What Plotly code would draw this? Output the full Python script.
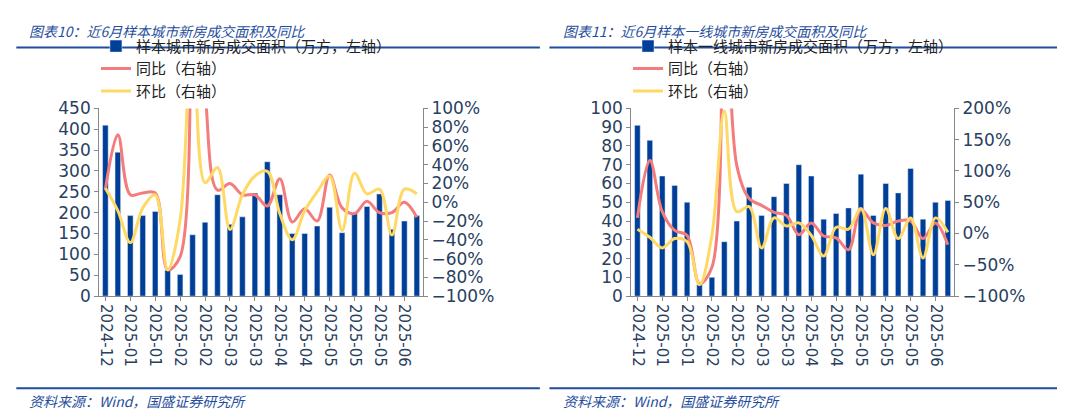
import plotly.graph_objects as go

x_idx = list(range(26))
tick_labels = ["2024-12", "2025-01", "2025-01", "2025-02", "2025-02", "2025-03", "2025-03",
               "2025-04", "2025-04", "2025-05", "2025-05", "2025-05", "2025-06"]

area_all = [410, 345, 193, 193, 203, 62, 52, 147, 177, 243, 172, 190, 247, 322, 243, 150, 150,
            168, 213, 152, 198, 215, 245, 160, 180, 193]
yoy_all = [14, 72, 8, 10, 10, -72, -58, 320, 120, 13, 20, 8, 8, -4, 25, -21, -7, -20, 29, -6,
           -12, 1, -11, -11, 0, -16]
mom_all = [15, -9, -43, -6, 8, -72, -19, 200, 21, 37, -29, 8, 28, 33, -12, -40, -9, 11, 28,
           -30, 31, 9, 14, -35, 14, 9]

area_t1 = [91, 83, 64, 59, 50, 6, 10, 29, 40, 58, 43, 53, 60, 70, 64, 41, 44, 47, 65, 43, 60,
           55, 68, 41, 50, 51]
yoy_t1 = [25, 117, 35, 5, -3, -80, -54, 450, 109, 56, 45, 34, 29, -2, 17, -4, -7, -26, 38, 17,
          13, 20, 20, -8, 17, -18]
mom_t1 = [7, -6, -23, -8, -13, -82, -3, 196, 35, 43, -23, 25, 12, 17, -3, -36, 10, 7, 40, -34,
          40, -8, 25, -39, 25, 2]

BLUE = "#003f98"
RED = "#f47c7c"
YEL = "#ffd966"
FONT = "DejaVu Sans, Noto Sans CJK SC"
CJK = "Noto Sans CJK SC"

fig = go.Figure()

def add_panel(n, bars, yoy, mom, barname, legend):
    xa = "x" if n == 1 else "x2"
    ya = "y" if n == 1 else "y3"
    ya2 = "y2" if n == 1 else "y4"
    fig.add_trace(go.Bar(x=x_idx, y=bars, name=barname, marker_color=BLUE, width=0.45,
                         xaxis=xa, yaxis=ya, legend=legend))
    fig.add_trace(go.Scatter(x=x_idx, y=yoy, name="同比（右轴）", mode="lines",
                             line=dict(color=RED, width=3, shape="spline", smoothing=1),
                             xaxis=xa, yaxis=ya2, legend=legend))
    fig.add_trace(go.Scatter(x=x_idx, y=mom, name="环比（右轴）", mode="lines",
                             line=dict(color=YEL, width=3, shape="spline", smoothing=1),
                             xaxis=xa, yaxis=ya2, legend=legend))

add_panel(1, area_all, yoy_all, mom_all, "样本城市新房成交面积（万方，左轴）", "legend")
add_panel(2, area_t1, yoy_t1, mom_t1, "样本一线城市新房成交面积（万方，左轴）", "legend2")

xcommon = dict(tickmode="array", tickvals=x_idx[::2], ticktext=tick_labels, tickangle=90,
               range=[-0.5, 25.5], showline=True, linecolor="#888", ticks="outside",
               ticklen=4, tickcolor="#888", showgrid=False, tickfont=dict(size=15, family=FONT))
ycommon = dict(showgrid=False, showline=True, linecolor="#888", ticks="outside", ticklen=4,
               tickcolor="#888", tickfont=dict(size=17, family=FONT), zeroline=False)

d1 = [0.083, 0.388]
d2 = [0.584, 0.888]
yd = [0.296, 0.771]
leg = dict(xanchor="left", yanchor="top", bgcolor="rgba(0,0,0,0)",
           font=dict(size=15, family=CJK, color="#222"), tracegroupgap=0, itemwidth=30)
fig.update_layout(
    xaxis=dict(domain=d1, anchor="y", **xcommon),
    xaxis2=dict(domain=d2, anchor="y3", **xcommon),
    yaxis=dict(domain=yd, range=[0, 450], dtick=50, anchor="x", **ycommon),
    yaxis2=dict(range=[-100, 100], dtick=20, ticksuffix="%", overlaying="y", side="right",
                anchor="x", **ycommon),
    yaxis3=dict(domain=yd, range=[0, 100], dtick=10, anchor="x2", **ycommon),
    yaxis4=dict(range=[-100, 200], dtick=50, ticksuffix="%", overlaying="y3", side="right",
                anchor="x2", **ycommon),
    legend=dict(x=0.08, y=0.97, **leg),
    legend2=dict(x=0.581, y=0.97, **leg),
    width=1065, height=415, margin=dict(l=0, r=0, t=0, b=0),
    plot_bgcolor="white", paper_bgcolor="white", bargap=0.5,
    showlegend=True,
)

shapes = []
for x0, x1 in [(0.005, 0.498), (0.507, 0.995)]:
    shapes.append(dict(type="line", xref="paper", yref="paper", x0=x0, x1=x1, y0=1 - 31 / 415,
                       y1=1 - 31 / 415, line=dict(color="#1f4e9c", width=2)))
    shapes.append(dict(type="line", xref="paper", yref="paper", x0=x0, x1=x1, y0=1 - 389 / 415,
                       y1=1 - 389 / 415, line=dict(color="#1f4e9c", width=2)))
fig.update_layout(shapes=shapes)

ann = [
    ("图表10：近6月样本城市新房成交面积及同比", 0.015, 1 - 14 / 415),
    ("图表11：近6月样本一线城市新房成交面积及同比", 0.518, 1 - 14 / 415),
    ("资料来源：Wind，国盛证券研究所", 0.015, 1 - 402 / 415),
    ("资料来源：Wind，国盛证券研究所", 0.518, 1 - 402 / 415),
]
for t, x, y in ann:
    fig.add_annotation(text="<i>" + t + "</i>", x=x, y=y, xref="paper", yref="paper",
                       xanchor="left", yanchor="middle", showarrow=False,
                       font=dict(size=14, family=CJK, color="#1f4e9c"))

fig.write_html("out.html")
